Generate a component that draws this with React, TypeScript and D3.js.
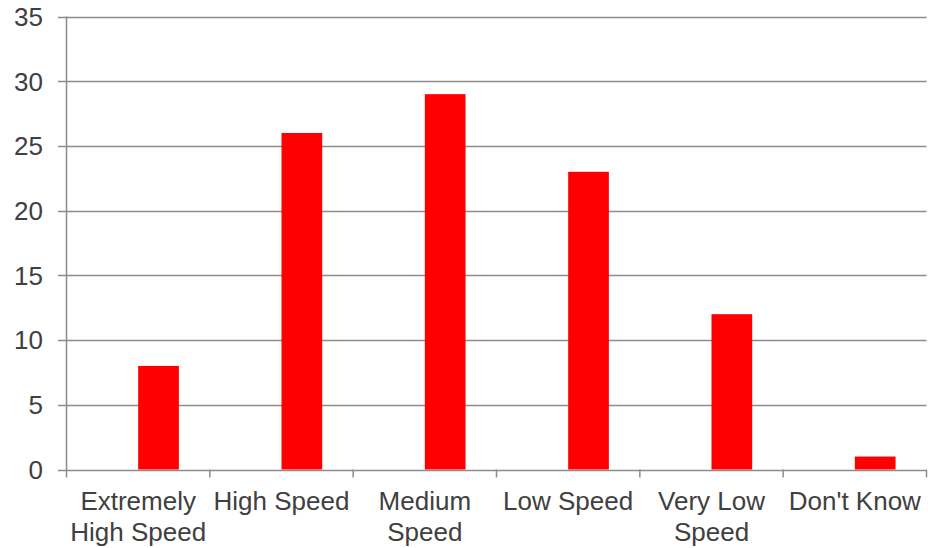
import React from "react";
import * as d3 from "d3";

const categories: string[][] = [
  ["Extremely", "High Speed"],
  ["High Speed"],
  ["Medium", "Speed"],
  ["Low Speed"],
  ["Very Low", "Speed"],
  ["Don't Know"],
];
const values: number[] = [8, 26, 29, 23, 12, 1];
const yTicks: number[] = [0, 5, 10, 15, 20, 25, 30, 35];

export default function App() {
  const W = 928, H = 548;
  const left = 66.5, right = 926.5, top = 16.5, bottom = 469.5;
  const keys = categories.map((_, i) => String(i));
  const x = d3.scaleBand<string>().domain(keys).range([left, right]).padding(0);
  const y = d3.scaleLinear().domain([0, 35]).range([bottom, top]);
  const bw = x.bandwidth() * 0.284;
  const grid = "#8c8c8c";
  const txt = "#404040";
  const font = "'Liberation Sans', Arial, sans-serif";
  const fs = 26;
  return (
    <svg width={W} height={H} style={{ position: "absolute", left: 0, top: 0 }}>
      {yTicks.map((t) => (
        <g key={t}>
          <line x1={58} x2={right} y1={Math.round(y(t)) + 0.5} y2={Math.round(y(t)) + 0.5} stroke={grid} strokeWidth={1.5} />
          <text x={43} y={y(t)} dy="0.36em" textAnchor="end" fontSize={fs} fontFamily={font} fill={txt}>{t}</text>
        </g>
      ))}
      <line x1={left} x2={left} y1={top} y2={bottom + 8} stroke={grid} strokeWidth={1.5} />
      {keys.map((k) => (
        <line key={"tk" + k} x1={(x(k) as number) + x.bandwidth()} x2={(x(k) as number) + x.bandwidth()} y1={bottom} y2={bottom + 8} stroke={grid} strokeWidth={1.5} />
      ))}
      {values.map((v, i) => {
        const cx = (x(keys[i]) as number) + x.bandwidth() / 2;
        return <rect key={"b" + i} x={cx} y={y(v)} width={bw} height={y(0) - y(v)} fill="#ff0000" />;
      })}
      {categories.map((lines, i) => {
        const cx = (x(keys[i]) as number) + x.bandwidth() / 2;
        return (
          <text key={"l" + i} textAnchor="middle" fontSize={fs} fontFamily={font} fill={txt}>
            {lines.map((ln, j) => (
              <tspan key={j} x={cx} y={510 + j * 31}>{ln}</tspan>
            ))}
          </text>
        );
      })}
    </svg>
  );
}
